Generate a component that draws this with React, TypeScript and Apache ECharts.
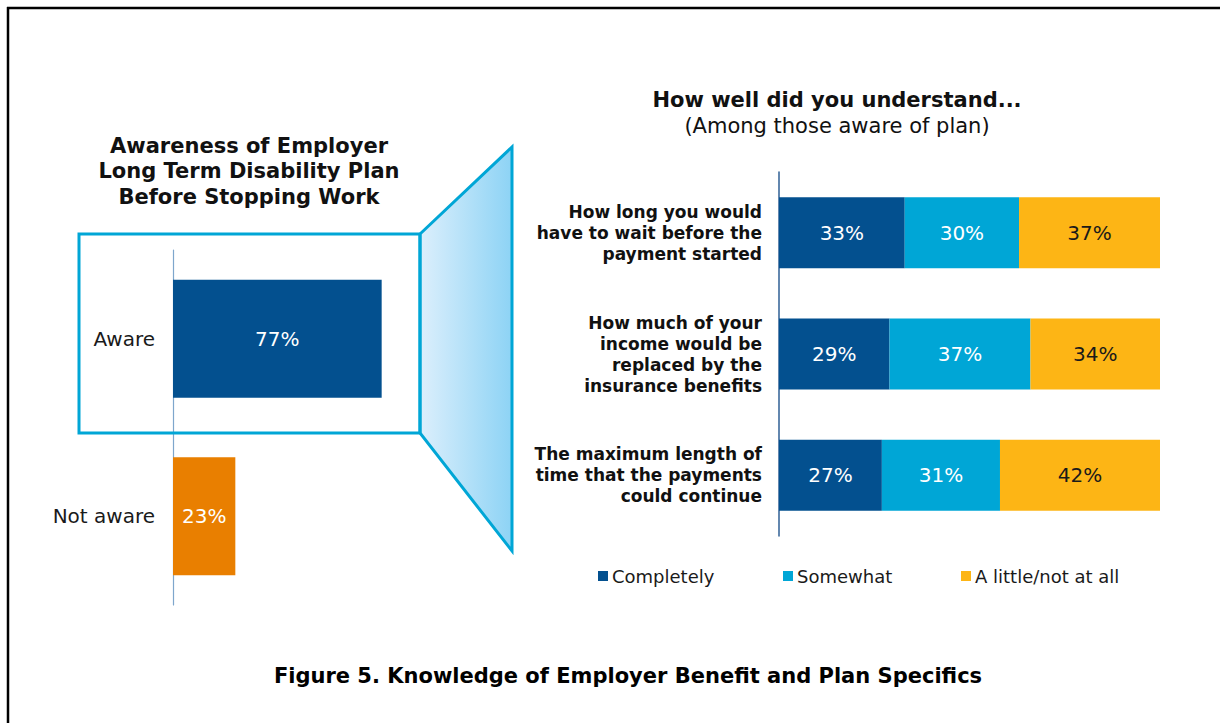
import React, { useEffect, useRef } from "react";
import * as echarts from "echarts";

const awareCats = ["Aware", "Not aware"];
const awareVals = [77, 23];

const questionCats = [
  "How long you would\nhave to wait before the\npayment started",
  "How much of your\nincome would be\nreplaced by the\ninsurance benefits",
  "The maximum length of\ntime that the payments\ncould continue",
];
const seriesNames = ["Completely", "Somewhat", "A little/not at all"];
const completely = [33, 29, 27];
const somewhat = [30, 37, 31];
const little = [37, 34, 42];

const FONT = "DejaVu Sans";
const DARK = "#03508f";
const CYAN = "#00a6d6";
const YELLOW = "#fdb515";
const ORANGE = "#e97f00";

export default function App() {
  const ref = useRef<HTMLDivElement>(null);
  useEffect(() => {
    if (!ref.current) return;
    const chart = echarts.init(ref.current, undefined, { renderer: "svg" });
    const pct = (p: any) => p.value + "%";
    const rightVals = [completely, somewhat, little];
    const rightColors = [DARK, CYAN, YELLOW];
    const legendLefts = [598, 783, 961];
    chart.setOption({
      animation: false,
      backgroundColor: "#ffffff",
      textStyle: { fontFamily: FONT },
      legend: seriesNames.map((n, i) => ({
        data: [n],
        left: legendLefts[i],
        top: 567,
        padding: 0,
        itemWidth: 10,
        itemHeight: 10,
        itemGap: 5,
        icon: "rect",
        textStyle: { fontFamily: FONT, fontSize: 18, color: "#1a1a1a", padding: [0, 0, 0, -1] },
      })),
      grid: [
        { left: 173, top: 250, width: 271, height: 355, containLabel: false },
        { left: 779, top: 172, width: 381, height: 364, containLabel: false },
      ],
      xAxis: [
        { type: "value", gridIndex: 0, min: 0, max: 100, show: false },
        { type: "value", gridIndex: 1, min: 0, max: 100, show: false },
      ],
      yAxis: [
        {
          type: "category",
          gridIndex: 0,
          data: awareCats,
          inverse: true,
          axisLine: { show: true, lineStyle: { color: "#7ea6cc", width: 1.2 } },
          axisTick: { show: false },
          axisLabel: { margin: 18, fontFamily: FONT, fontSize: 20, color: "#1a1a1a" },
        },
        {
          type: "category",
          gridIndex: 1,
          data: questionCats,
          inverse: true,
          axisLine: { show: true, lineStyle: { color: "#2f5f94", width: 1.5 } },
          axisTick: { show: false },
          axisLabel: {
            margin: 17,
            fontFamily: FONT,
            fontSize: 17,
            fontWeight: "bold",
            color: "#111111",
            lineHeight: 21,
            align: "right",
          },
        },
      ],
      series: [
        {
          name: "Awareness",
          type: "bar",
          xAxisIndex: 0,
          yAxisIndex: 0,
          barWidth: 118,
          data: awareVals.map((v, i) => ({
            value: v,
            itemStyle: { color: i === 0 ? DARK : ORANGE },
          })),
          label: {
            show: true,
            position: "inside",
            formatter: pct,
            fontFamily: FONT,
            fontSize: 20,
            color: "#ffffff",
          },
        },
        ...seriesNames.map((n, i) => ({
          name: n,
          type: "bar",
          xAxisIndex: 1,
          yAxisIndex: 1,
          stack: "u",
          barWidth: 71,
          itemStyle: { color: rightColors[i] },
          data: rightVals[i],
          label: {
            show: true,
            position: "inside",
            formatter: pct,
            fontFamily: FONT,
            fontSize: 20,
            color: i === 2 ? "#1a1a1a" : "#ffffff",
          },
        })),
      ],
      graphic: [
        { type: "line", shape: { x1: 7, y1: 8, x2: 1220, y2: 8 }, style: { stroke: "#000", lineWidth: 2.5 } },
        { type: "line", shape: { x1: 8, y1: 7, x2: 8, y2: 723 }, style: { stroke: "#000", lineWidth: 2.5 } },
        {
          type: "polygon",
          shape: { points: [[420, 234], [512, 147], [512, 551], [420, 433]] },
          style: {
            fill: new echarts.graphic.LinearGradient(0, 0, 1, 0, [
              { offset: 0, color: "#dceffc" },
              { offset: 1, color: "#8dd3f5" },
            ]),
            stroke: CYAN,
            lineWidth: 3,
          },
          z: 1,
        },
        {
          type: "rect",
          shape: { x: 79, y: 234, width: 341, height: 199 },
          style: { fill: "none", stroke: CYAN, lineWidth: 3 },
          z: 1,
        },
        {
          type: "text",
          x: 249,
          y: 133,
          style: {
            text: "Awareness of Employer\nLong Term Disability Plan\nBefore Stopping Work",
            fontFamily: FONT,
            fontSize: 21,
            fontWeight: "bold",
            lineHeight: 25.5,
            fill: "#111",
            align: "center",
          },
        },
        {
          type: "text",
          x: 837,
          y: 89,
          style: {
            text: "How well did you understand...",
            fontFamily: FONT,
            fontSize: 21,
            fontWeight: "bold",
            fill: "#111",
            align: "center",
          },
        },
        {
          type: "text",
          x: 837,
          y: 115,
          style: {
            text: "(Among those aware of plan)",
            fontFamily: FONT,
            fontSize: 21,
            fill: "#111",
            align: "center",
          },
        },
        {
          type: "text",
          x: 628,
          y: 665,
          style: {
            text: "Figure 5. Knowledge of Employer Benefit and Plan Specifics",
            fontFamily: FONT,
            fontSize: 21,
            fontWeight: "bold",
            fill: "#000",
            align: "center",
          },
        },
      ],
    });
    return () => chart.dispose();
  }, []);
  return (
    <div
      ref={ref}
      style={{ position: "absolute", left: 0, top: 0, width: 1225, height: 723 }}
    />
  );
}
